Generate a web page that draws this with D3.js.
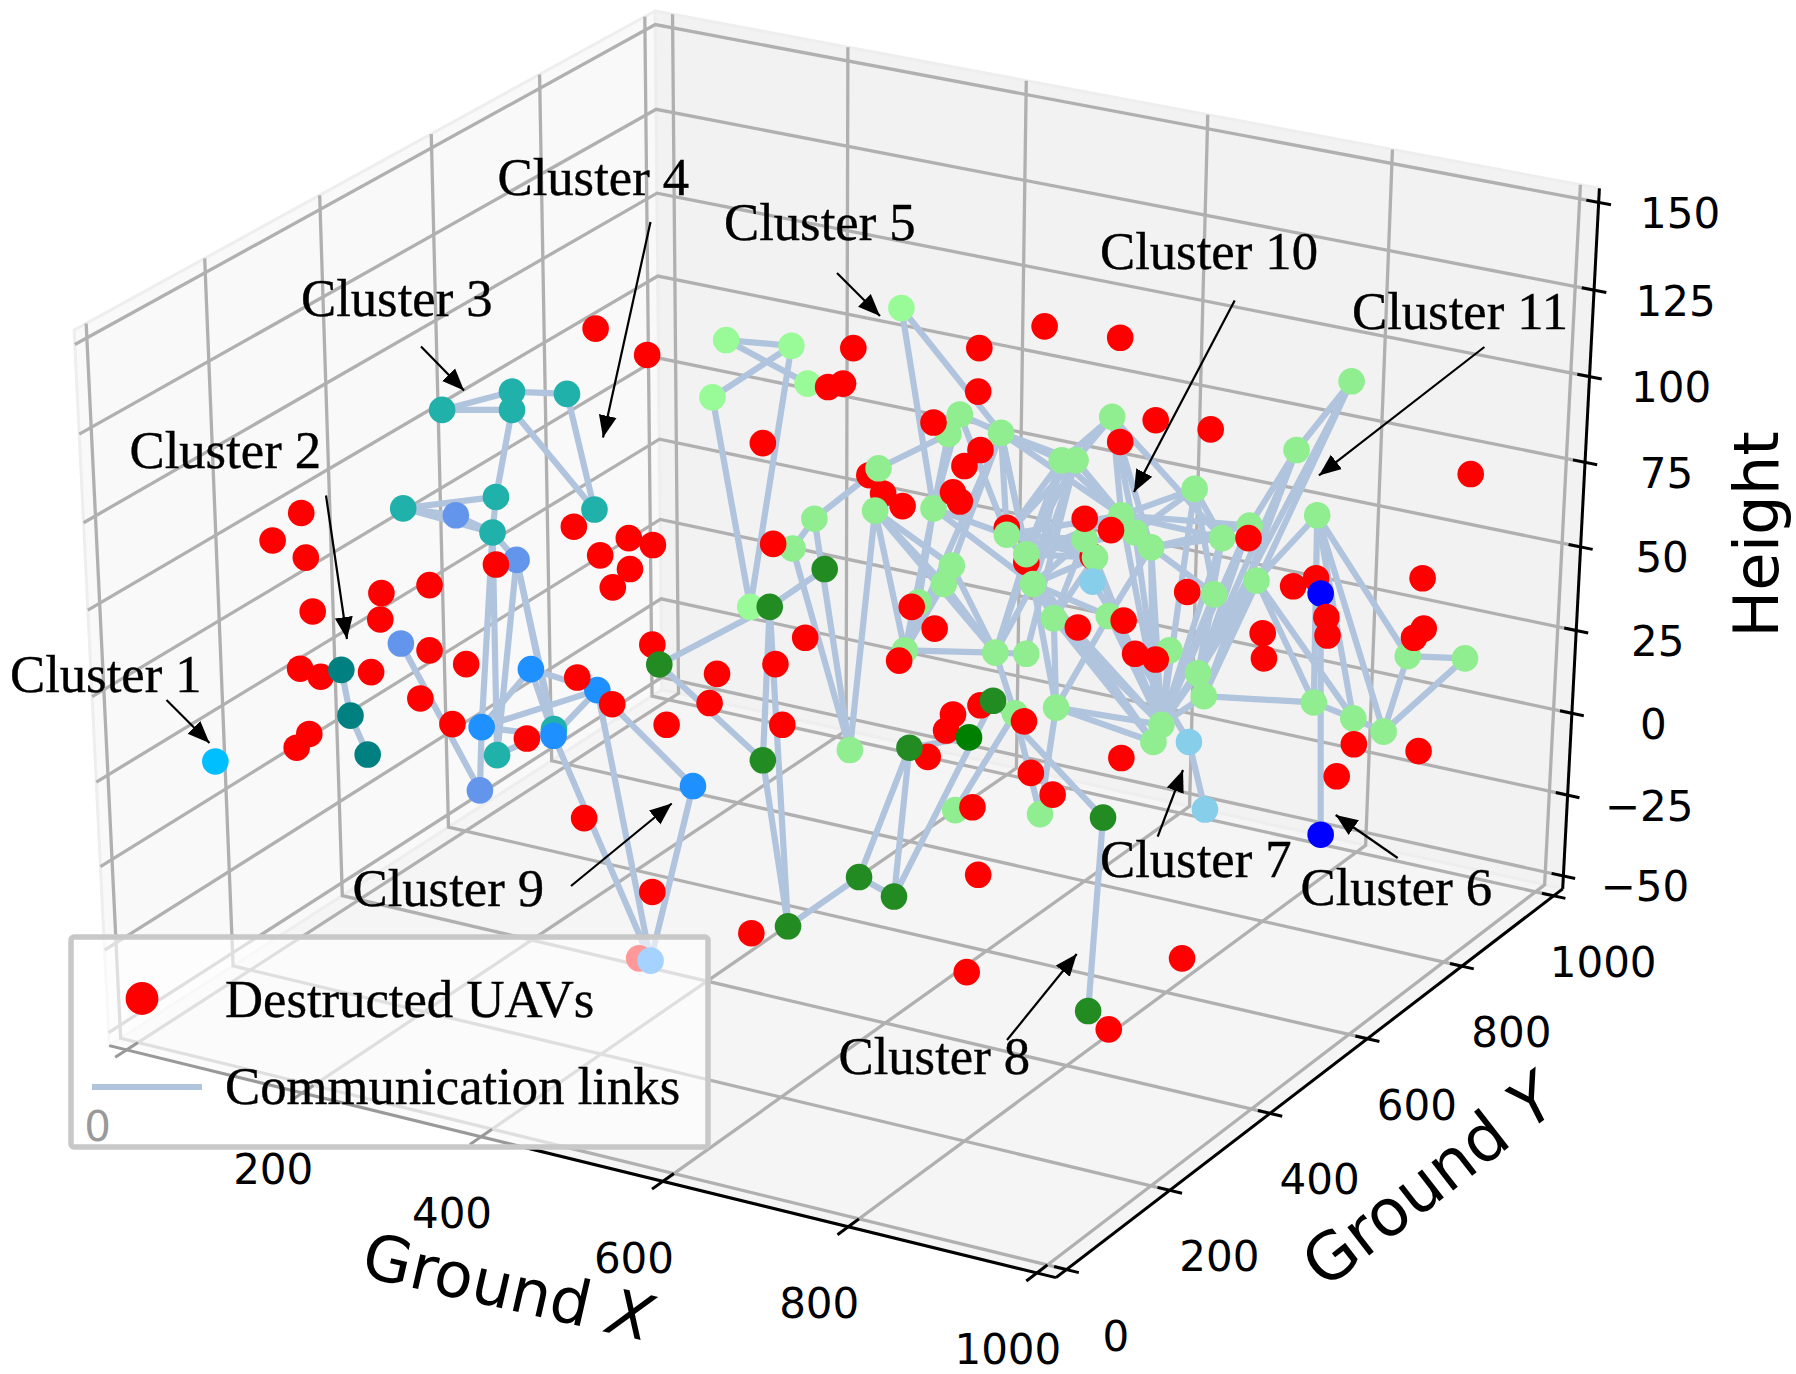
<!DOCTYPE html>
<html><head><meta charset="utf-8">
<script src="https://cdn.jsdelivr.net/npm/d3@7"></script>
<style>html,body{margin:0;padding:0;background:#fff}svg{display:block}</style>
</head><body><svg id="c" width="1796" height="1374"></svg>
<script>
// ---- axis values ----
const xTicks=[0,200,400,600,800,1000];
const yTicks=[0,200,400,600,800,1000];
const zTicks=[-50,-25,0,25,50,75,100,125,150];
const xLim=[-20,1020], yLim=[-20,1020], zLim=[-54,154];

// ---- values, in picture-plane units (image 1568 wide) ----
const destructedLower=[[879,461],[896,491],[759,415],[771,431],[954,486],[280,591],[1149,505],[569.5,563],[856,616],[832,624],[826,638],[810,661],[558,837],[968,899]];
const destructedUpper=[[520,287],[565,310],[745,304],[855,304],[912,285],[978,295],[723,338],[736,335],[854,342],[666,387],[815,369],[1009,367],[1057,375],[978,386],[856,393],[842,407],[1284,414],[788,442],[832,430],[838,438],[501,460],[263,448],[238,472],[267,487],[549,470],[570,476],[524,485],[550,497],[535,513],[433,493],[675,475],[947,453],[970,463],[1090,470],[1242,505],[1129,512],[1036.5,517],[333,518],[375,511],[273,534],[332,541],[796,530],[816,549],[941,548],[981,542],[1158,539],[1159,555],[1243,549],[1234.5,557],[1102.4,553],[1103.5,575],[703,557],[375,568],[407,580],[262,584],[324,587],[991,571],[1009,576],[785,577],[677,580],[626,588.5],[504,591.7],[534.5,615],[619.5,614],[367,610],[395,632.4],[460,645],[270,641],[259,653],[582,633],[683,633],[894,630],[1182,650],[1238.5,656],[979,662],[900,675],[1167,678],[919,694],[849,705],[510,714.5],[854,764],[569.5,779],[656,815],[844,849],[1032,837]];

const cluster1=[["s1",188,665]];
const cluster2=[["t1",298,585],["t2",306,625],["t3",321,659]];
const cluster3=[["c31",386,358],["c32",447,342],["c33",447,358],["c34",495,344],["c35",352,444],["c36",433,434],["c37",430,465],["c38",519,445],["c39",434,659.5],["c3a",483.6,636.8]];
const cluster4=[["c41",398,450],["c42",451,489],["c43",350,562],["c44",419,690.3]];
const cluster5=[["p1",787,269],["p2",634,297],["p3",691,302],["p4",705,335],["p5",622,347],["p6",655,530]];
const cluster6=[["b1",1153,518.3],["b2",1153,729]];
const cluster7=[["k1",954,508],["k2",1038,648],["k3",1052,707]];
const cluster8=[["f1",575.6,580.3],["f2",720,497],["f3",672,530],["f4",666,664],["f5",688,809],["f6",750,766],["f7",780.5,783],["f8",794,653],["f9",867,612],["fa",963,714],["fb",950,883]];
const cluster8Deep=[["g1",846,644]];
const cluster9=[["d1",463.5,584.4],["d2",521.5,602.7],["d3",420.5,635],["d4",483.3,642.6],["d5",605,686.5],["d6",568,839]];
const cluster10=[["o",692,479],["n",711,453],["k",767,409],["l",764,446],["b",828,379],["a",838,362],["c",874,378],["d",927,402],["e",939,402],["f",971,364],["i",1005,478],["h",991,465],["g",979,450],["j",1043,427],["m",815,444],["p",879,467],["q",896,484],["r",947,471],["s",956,487],["t",902,510],["u",831,494],["v",824,510],["w",802,526],["x",920,540],["y",968,538],["z",790,568],["A",869,570],["B",896,571],["C",1021,568],["F",922,618],["G",886,623],["I",1007,648],["H",1014,633],["J",742,655],["W",834,707.5],["X",908,711]];
const cluster11=[["D",1046,588],["E",1051,608],["K",1067,470],["L",1091,459],["M",1060,519],["N",1097,507],["O",1132,393],["P",1180,333],["Q",1150,450],["R",1229,573],["S",1279,575],["T",1147,613.5],["U",1181.5,627.4],["V",1208,639]];

const linkPairs=("t1-t2 t2-t3 "+
"c31-c32 c31-c33 c32-c34 c32-c33 c33-c36 c33-c38 c34-c38 c35-c36 c35-c37 c36-c37 c37-c39 c37-d3 c39-c3a "+
"c35-c41 c41-c37 c37-c42 c42-c39 c42-c3a c42-d4 c43-c44 c44-d3 "+
"d1-d2 d1-d3 d1-d4 d2-d3 d2-d4 d3-d4 d2-d5 d2-d6 d5-d6 d4-d6 "+
"p2-p3 p2-p4 p3-p5 p5-p6 p3-p6 p1-m p1-c "+
"b1-b2 k1-k2 k2-k3 "+
"f1-f3 f3-f2 f3-f4 f3-f5 f4-f5 f1-f4 f5-f6 f6-f7 f6-f8 f7-f8 f7-f9 f8-g1 f9-fa fa-fb "+
"n-k k-b n-o o-J n-J l-J m-a m-b m-z m-w m-p m-t l-z l-A l-v l-u a-p a-c c-u c-z c-q c-d c-e c-p c-g c-t "+
"u-A v-A v-z u-z w-z z-A A-B A-t A-q A-G t-F x-F y-F F-H F-I F-X t-I t-x G-X W-G "+
"d-q d-p d-t e-q e-p e-t e-B d-A d-g e-g e-h f-d f-e f-g f-h f-K f-i "+
"p-r p-s q-r q-s p-g q-g q-h t-s t-r t-y r-x s-x "+
"g-j h-j g-K g-L i-L i-K i-M j-K j-M j-H K-D K-H L-D L-H L-I M-H M-D N-H N-D N-E N-T N-U N-Q Q-T Q-U Q-V Q-R T-U U-V V-R V-S R-S T-E O-P P-E O-D O-E O-L P-D "+
"g-H h-H i-H i-I i-y C-H D-H E-H y-H x-H x-I r-H s-H p-I t-H").split(" ").filter(Boolean).map(s=>s.split("-"));

const clusterStyles=[
  [cluster1,"#00BFFF"],[cluster2,"#008080"],[cluster3,"#20B2AA"],[cluster4,"#6495ED"],
  [cluster11,"#90EE90"],[cluster10,"#90EE90"],[cluster5,"#98FB98"],[cluster8,"#228B22"],[cluster8Deep,"#008000"],
  [cluster9,"#1E90FF"],[cluster7,"#87CEEB"],[cluster6,"#0000FF"]
];

const labelTexts=["Cluster 1","Cluster 2","Cluster 3","Cluster 4","Cluster 5","Cluster 6","Cluster 7","Cluster 8","Cluster 9","Cluster 10","Cluster 11"];
const labelAt=[[10,692],[129.5,467.5],[301,316],[497.5,194.5],[724,240],[1300.5,905],[1100,877],[838.5,1074],[352.5,906],[1100,269],[1352,329]];
const arrowAt=[[166.5,700,209.5,743],[326,495.5,347,639],[421,346.4,464,390.6],[650.5,222,603,437.5],[837,273,880,316],[1397.7,858,1335.7,815],[1157.7,836.7,1183,770],[1007,1040,1076.7,954],[571,886,671.7,803.5],[1234.7,300.4,1134,492],[1484.4,347,1319,475.4]];

// ---- scales ----
const px=d3.scaleLinear().domain([0,1568]).range([0,1796]);
const py=d3.scaleLinear().domain([0,1200]).range([0,1374]);
const nx=d3.scaleLinear().domain([0,1000]).range([0,1]);
const ny=d3.scaleLinear().domain([0,1000]).range([0,1]);
const nz=d3.scaleLinear().domain([0,100]).range([0,1]);

// ---- perspective camera fitted to the axes box ----
const [x0,x1]=xLim,[y0,y1]=yLim,[z0,z1]=zLim;
const calib=[
 [x0,y0,z0,98,912],[x1,y0,z0,922,1115],[x1,y1,z0,1365,775],[x0,y1,z0,574,604],
 [x0,y0,z1,64,288],[x1,y1,z1,1396,164],[x0,y1,z1,574,8],
 [0,y0,z0,113,917],[400,y0,z0,418,994],[600,y0,z0,576,1033],[800,y0,z0,739,1072],[1000,y0,z0,903,1110],
 [x1,0,z0,934,1109],[x1,400,z0,1113,973],[x1,1000,z0,1356,781],
 [x1,y1,150,1395,178.5],[x1,y1,-50,1365,766],[x0,y0,150,65,301],
 [0,y1,z1,589,12],[1000,y1,z1,1379,162],[x0,0,z1,74,283]
];
function fitCamera(rows){
  const n=11,A=d3.range(n).map(()=>new Array(n+1).fill(0));
  const add=(r,b)=>{for(let i=0;i<n;i++){for(let j=0;j<n;j++)A[i][j]+=r[i]*r[j];A[i][n]+=r[i]*b;}};
  rows.forEach(([X,Y,Z,u,v])=>{const a=nx(X),b=ny(Y),c=nz(Z);
    add([a,b,c,1,0,0,0,0,-u*a,-u*b,-u*c],u);
    add([0,0,0,0,a,b,c,1,-v*a,-v*b,-v*c],v);});
  for(let i=0;i<n;i++){let m=i;for(let k=i+1;k<n;k++)if(Math.abs(A[k][i])>Math.abs(A[m][i]))m=k;
    [A[i],A[m]]=[A[m],A[i]];
    for(let k=0;k<n;k++){if(k===i)continue;const f=A[k][i]/A[i][i];for(let j=i;j<=n;j++)A[k][j]-=f*A[i][j];}}
  return A.map((r,i)=>r[n]/r[i]);
}
const cam=fitCamera(calib);
function proj(X,Y,Z){const a=nx(X),b=ny(Y),c=nz(Z);
  const w=cam[8]*a+cam[9]*b+cam[10]*c+1;
  return [px((cam[0]*a+cam[1]*b+cam[2]*c+cam[3])/w),py((cam[4]*a+cam[5]*b+cam[6]*c+cam[7])/w)];}

const svg=d3.select("#c");
const line=d3.line();
const DEJA="'DejaVu Sans',sans-serif", SERIF="'Liberation Serif',serif";

// panes
const panes=[
 {c:[[x0,y0,z0],[x0,y1,z0],[x0,y1,z1],[x0,y0,z1]],f:"#f9f9f9"},
 {c:[[x0,y1,z0],[x1,y1,z0],[x1,y1,z1],[x0,y1,z1]],f:"#f2f2f2"},
 {c:[[x0,y0,z0],[x1,y0,z0],[x1,y1,z0],[x0,y1,z0]],f:"#f5f5f5"}];
svg.append("g").selectAll("path").data(panes).join("path")
  .attr("d",d=>line(d.c.map(p=>proj(...p)))+"Z").attr("fill",d=>d.f)
  .attr("stroke","#eeeeee").attr("stroke-width",3).attr("stroke-linejoin","round");

// grid
const gridLines=[
 ...xTicks.map(v=>[[v,y0,z0],[v,y1,z0],[v,y1,z1]]),
 ...yTicks.map(v=>[[x1,v,z0],[x0,v,z0],[x0,v,z1]]),
 ...zTicks.map(v=>[[x0,y0,v],[x0,y1,v],[x1,y1,v]])];
svg.append("g").selectAll("path").data(gridLines).join("path")
  .attr("d",d=>line(d.map(p=>proj(...p)))).attr("fill","none")
  .attr("stroke","#b0b0b0").attr("stroke-width",3.3);

// axes and ticks
const axisLines=[[[x0,y0,z0],[x1,y0,z0]],[[x1,y0,z0],[x1,y1,z0]],[[x1,y1,z0],[x1,y1,z1]]];
const tickLines=[
 ...xTicks.map(v=>[[v,y0-20,z0],[v,y0+20,z0]]),
 ...yTicks.map(v=>[[x1-13,v,z0],[x1+13,v,z0]]),
 ...zTicks.map(v=>[[x1-13,y1,v],[x1+13,y1,v]])];
svg.append("g").selectAll("path").data(axisLines.concat(tickLines)).join("path")
  .attr("d",d=>line(d.map(p=>proj(...p)))).attr("stroke","#000").attr("stroke-width",3).attr("fill","none");

// tick labels
const tl=svg.append("g").attr("font-family",DEJA).attr("font-size",42).attr("text-anchor","middle").attr("dominant-baseline","central").attr("fill","#000");
const fmt=v=>String(v).replace("-","\u2212");
tl.selectAll(".x").data(xTicks).join("text").attr("class","x").text(fmt)
  .attr("x",v=>proj(v,y0,z0)[0]-29).attr("y",v=>proj(v,y0,z0)[1]+77);
tl.selectAll(".y").data(yTicks).join("text").attr("class","y").text(fmt)
  .attr("x",v=>proj(x1,v,z0)[0]+49.5).attr("y",v=>proj(x1,v,z0)[1]+66.5);
tl.selectAll(".z").data(zTicks).join("text").attr("class","z").text(fmt)
  .attr("x",v=>proj(x1,y1,v)[0]+81.5).attr("y",v=>proj(x1,y1,v)[1]+11);

// axis titles
const tg=svg.append("g").attr("font-family",DEJA).attr("text-anchor","middle").attr("dominant-baseline","central").attr("fill","#000");
function title(txt,ital,cx,cy,rot,size){const t=tg.append("text").attr("font-size",size).attr("transform",`translate(${cx},${cy}) rotate(${rot})`);
  t.append("tspan").text(txt); if(ital) t.append("tspan").attr("font-style","italic").text(ital);}
title("Ground ","X",508,1287,12.9,63);
title("Ground ","Y",1429,1180,-37.8,65);
title("Height",null,1756,534.5,-90,62.5);

// links
const allNodes=new Map(clusterStyles.flatMap(([arr])=>arr).map(d=>[d[0],d]));
svg.append("g").selectAll("line").data(linkPairs).join("line")
  .attr("x1",d=>px(allNodes.get(d[0])[1])).attr("y1",d=>py(allNodes.get(d[0])[2]))
  .attr("x2",d=>px(allNodes.get(d[1])[1])).attr("y2",d=>py(allNodes.get(d[1])[2]))
  .attr("stroke","#B0C4DE").attr("stroke-width",6.2).attr("stroke-linecap","round");

const R=13.3;
svg.append("g").selectAll("circle").data(destructedLower).join("circle")
  .attr("cx",d=>px(d[0])).attr("cy",d=>py(d[1])).attr("r",R).attr("fill","#f00");
clusterStyles.forEach(([arr,col])=>{
  svg.append("g").selectAll("circle").data(arr).join("circle")
    .attr("cx",d=>px(d[1])).attr("cy",d=>py(d[2])).attr("r",R).attr("fill",col);
});
svg.append("g").selectAll("circle").data(destructedUpper).join("circle")
  .attr("cx",d=>px(d[0])).attr("cy",d=>py(d[1])).attr("r",R).attr("fill","#f00");

// annotations
svg.append("defs").append("marker").attr("id","ah").attr("markerUnits","userSpaceOnUse")
  .attr("markerWidth",24).attr("markerHeight",20).attr("refX",22).attr("refY",10).attr("orient","auto")
  .append("path").attr("d","M0,1L22,10L0,19Z").attr("fill","#000");
svg.append("g").selectAll("line").data(arrowAt).join("line")
  .attr("x1",d=>d[0]).attr("y1",d=>d[1]).attr("x2",d=>d[2]).attr("y2",d=>d[3])
  .attr("stroke","#000").attr("stroke-width",2.2).attr("marker-end","url(#ah)");
svg.append("g").attr("font-family",SERIF).attr("font-size",52.7).attr("fill","#000").attr("stroke","#000").attr("stroke-width",0.4)
  .selectAll("text").data(labelTexts).join("text").text(d=>d)
  .attr("x",(d,i)=>labelAt[i][0]).attr("y",(d,i)=>labelAt[i][1]);

// legend
const lg=svg.append("g");
lg.append("rect").attr("x",71).attr("y",937).attr("width",637).attr("height",210).attr("rx",3)
  .attr("fill","#fff").attr("fill-opacity",0.6).attr("stroke","#c8c8c8").attr("stroke-width",5.5);
lg.append("circle").attr("cx",142).attr("cy",998.5).attr("r",16.4).attr("fill","#f00");
lg.append("line").attr("x1",92).attr("x2",202).attr("y1",1087).attr("y2",1087).attr("stroke","#B0C4DE").attr("stroke-width",6.2);
lg.selectAll("text").data(["Destructed UAVs","Communication links"]).join("text").text(d=>d)
  .attr("x",225).attr("y",(d,i)=>i?1103.5:1016.5).attr("font-family",SERIF).attr("font-size",52.7).attr("fill","#000").attr("stroke","#000").attr("stroke-width",0.4);
</script></body></html>
